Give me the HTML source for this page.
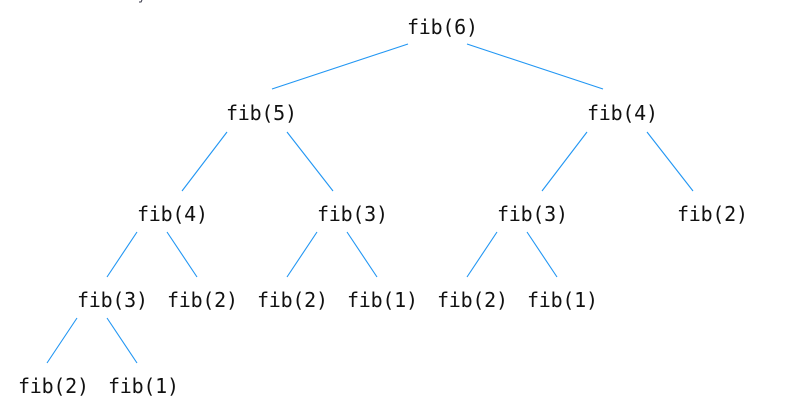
<!DOCTYPE html>
<html><head><meta charset="utf-8"><style>
html,body{margin:0;padding:0;background:#fff;}
svg{display:block;}
text{font-family:"DejaVu Sans Mono","Liberation Mono",monospace;font-size:20px;fill:#111;}
</style></head><body>
<svg width="788" height="410" viewBox="0 0 788 410" xmlns="http://www.w3.org/2000/svg">
<g stroke="#2196f3" stroke-width="1.1" fill="none">
<line x1="408" y1="44" x2="272" y2="89"/>
<line x1="467" y1="44" x2="603" y2="89"/>
<line x1="227" y1="132" x2="182" y2="191"/>
<line x1="287" y1="132" x2="333" y2="191"/>
<line x1="587" y1="132" x2="542" y2="191"/>
<line x1="647" y1="132" x2="693" y2="191"/>
<line x1="137" y1="232" x2="107" y2="277"/>
<line x1="167" y1="232" x2="197" y2="277"/>
<line x1="317" y1="232" x2="287" y2="277"/>
<line x1="347" y1="232" x2="377" y2="277"/>
<line x1="497" y1="232" x2="467" y2="277"/>
<line x1="527" y1="232" x2="557" y2="277"/>
<line x1="77" y1="318" x2="47" y2="363"/>
<line x1="107" y1="318" x2="137" y2="363"/>
</g>
<path d="M139 2 L141 2 L142 0" stroke="#334" stroke-width="1" fill="none"/>
<text x="407" y="34" textLength="71">fib(6)</text>
<text x="226" y="120" textLength="71">fib(5)</text>
<text x="587" y="120" textLength="71">fib(4)</text>
<text x="137" y="221" textLength="71">fib(4)</text>
<text x="317" y="221" textLength="71">fib(3)</text>
<text x="497" y="221" textLength="71">fib(3)</text>
<text x="677" y="221" textLength="71">fib(2)</text>
<text x="77" y="307" textLength="71">fib(3)</text>
<text x="167" y="307" textLength="71">fib(2)</text>
<text x="257" y="307" textLength="71">fib(2)</text>
<text x="347" y="307" textLength="71">fib(1)</text>
<text x="437" y="307" textLength="71">fib(2)</text>
<text x="527" y="307" textLength="71">fib(1)</text>
<text x="18" y="393" textLength="71">fib(2)</text>
<text x="108" y="393" textLength="71">fib(1)</text>
</svg>
</body></html>
